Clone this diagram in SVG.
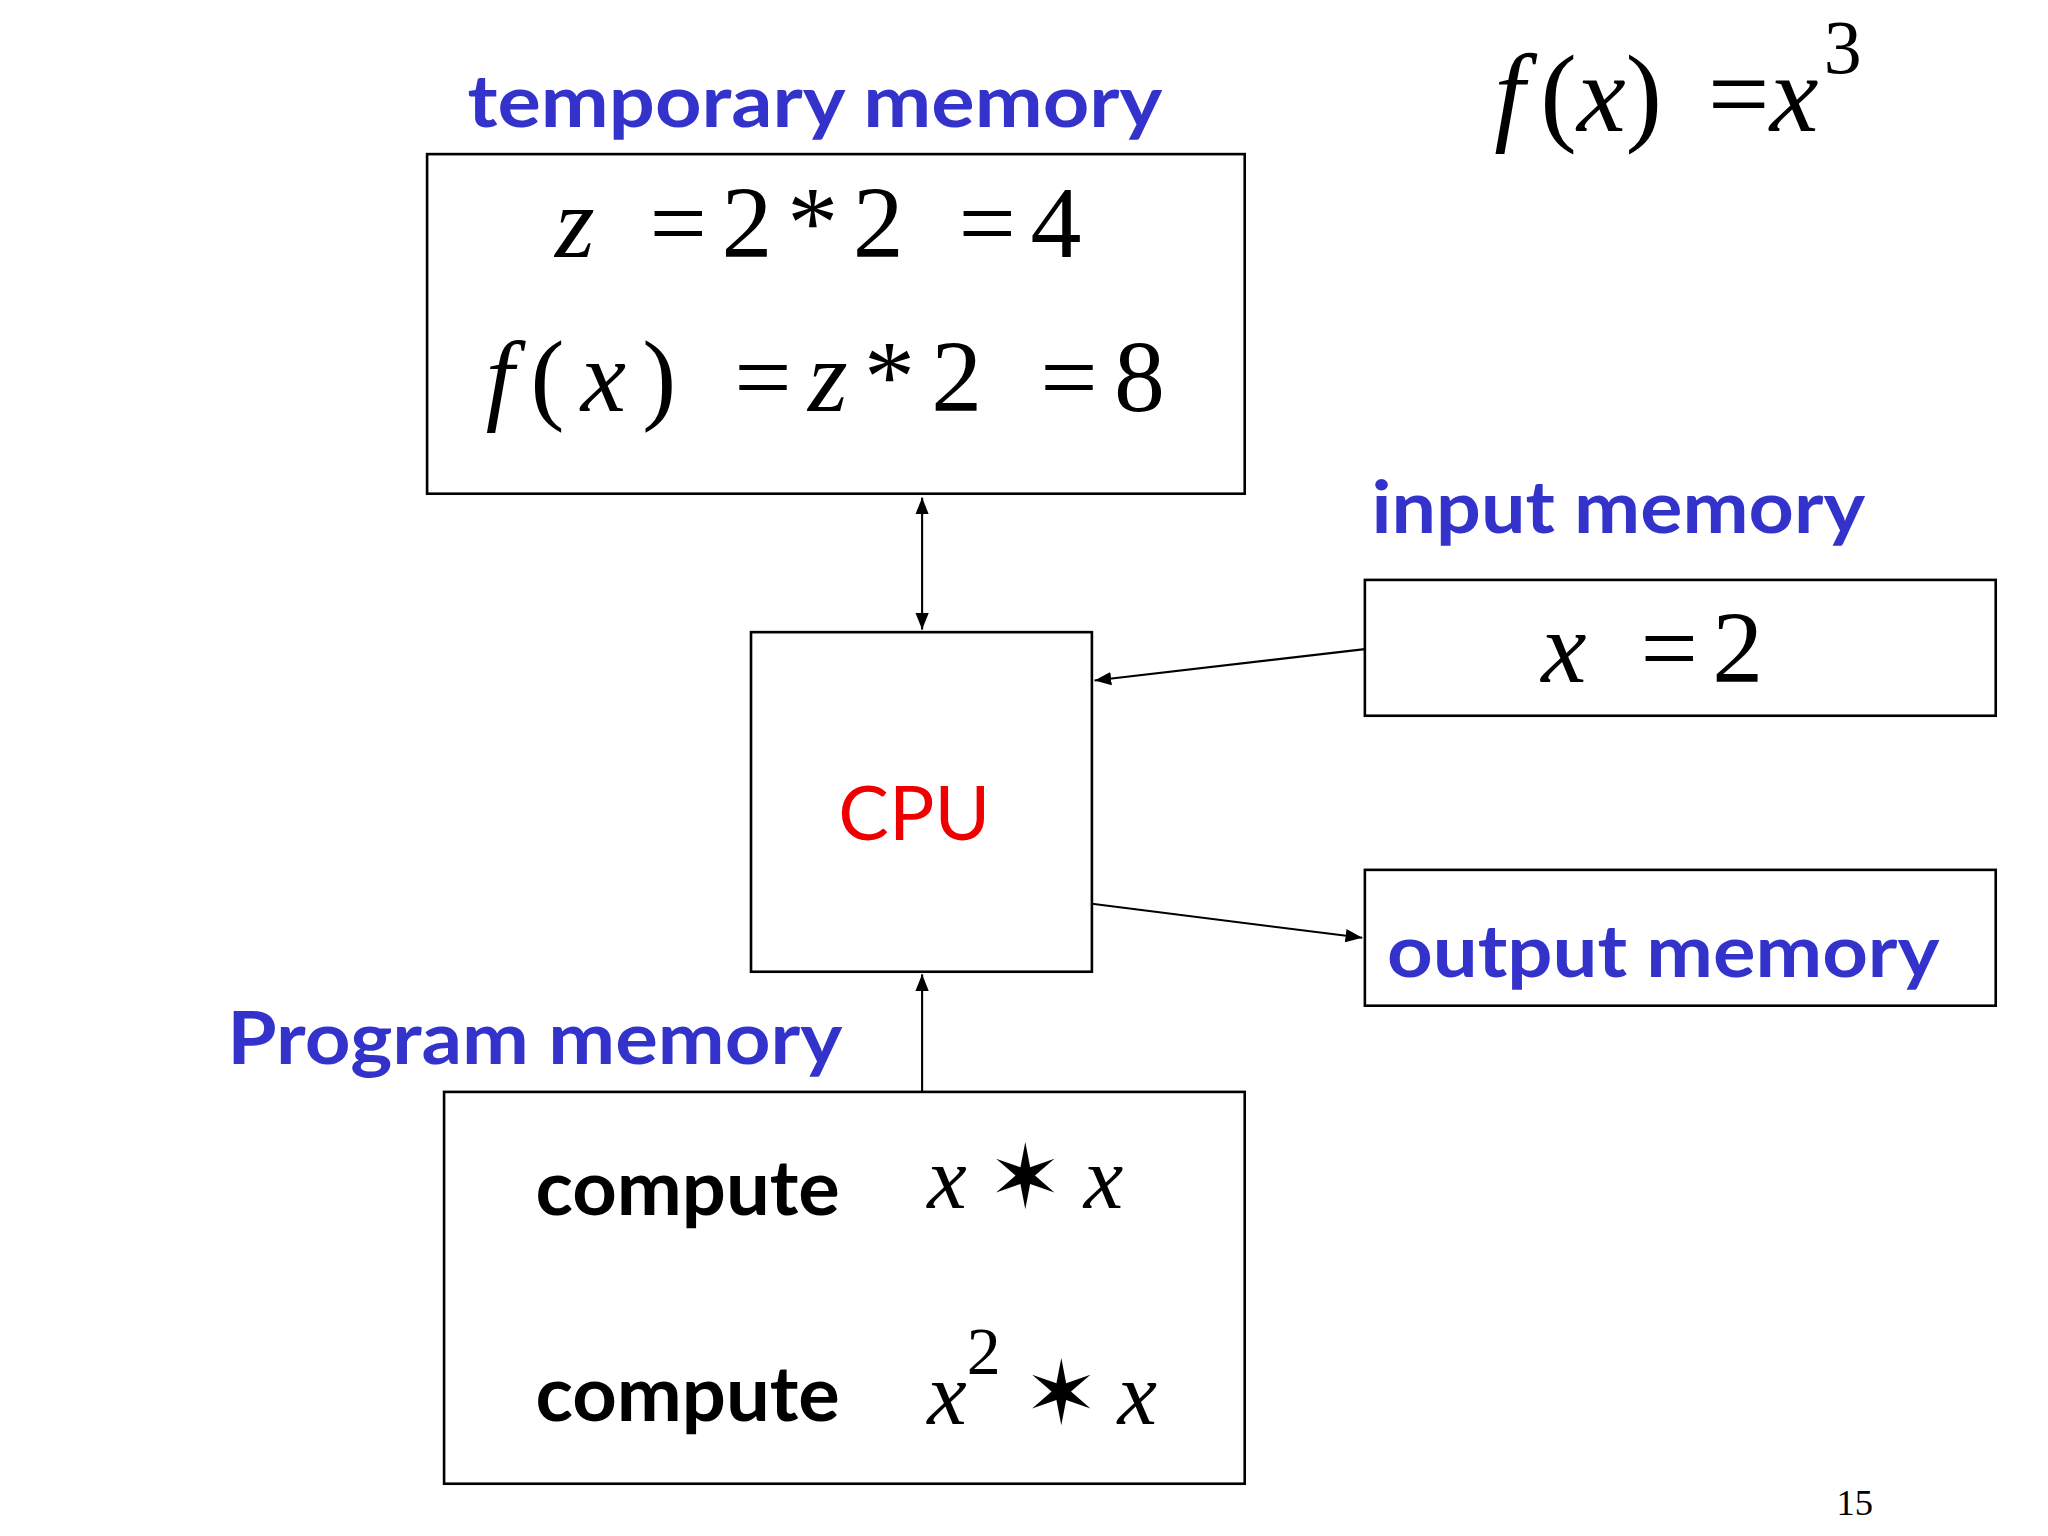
<svg xmlns="http://www.w3.org/2000/svg" width="2048" height="1536" viewBox="0 0 2048 1536">
<style>
.box{fill:none;stroke:#000;stroke-width:2}
.lbl{font-family:"Lato","DejaVu Sans",sans-serif;fill:#3333cc;font-size:56px;font-weight:bold}
.m{font-family:"Liberation Serif",serif;fill:#000}
.i{font-style:italic}
.c{font-family:"Lato","DejaVu Sans",sans-serif;font-size:58px;fill:#000;font-weight:bold}
.ln{stroke:#000;stroke-width:1.6;fill:none}
</style>
<defs><marker id="a" viewBox="0 0 10 10" refX="10" refY="5" markerWidth="8" markerHeight="8" orient="auto-start-reverse"><path d="M0,1L10,5L0,9z" fill="#000"/></marker></defs>
<rect width="2048" height="1536" fill="#fff"/>
<g transform="scale(1.3061)">
<g id="temp"><text class="lbl" x="358" y="97" textLength="532" lengthAdjust="spacingAndGlyphs">temporary memory</text><rect class="box" x="327" y="118" width="626" height="260"/>
<text class="m" x="425" y="197" font-size="78" textLength="403"><tspan class="i">z</tspan> =2*2 =4</text>
<text class="m" x="372" y="315" font-size="78" textLength="520"><tspan class="i">f</tspan>(<tspan class="i">x</tspan>) =<tspan class="i">z</tspan>*2 =8</text></g>
<g id="formula"><text class="m" x="1140" y="100" font-size="84"><tspan class="i" dx="4">f</tspan><tspan dx="12">(</tspan><tspan class="i">x</tspan>) <tspan dx="14">=</tspan><tspan class="i">x</tspan><tspan dy="-44" font-size="58" dx="4">3</tspan></text></g>
<g id="input"><text class="lbl" x="1050" y="408" textLength="378" lengthAdjust="spacingAndGlyphs">input memory</text><rect class="box" x="1045" y="444" width="483" height="104"/>
<text class="m" x="1180" y="522" font-size="78" textLength="170"><tspan class="i">x</tspan> =2</text></g>
<g id="cpu"><rect class="box" x="575" y="484" width="261" height="260"/><text x="700" y="643" font-family="Lato,DejaVu Sans,sans-serif" font-size="58" fill="#ee0000" text-anchor="middle">CPU</text></g>
<g id="output"><rect class="box" x="1045" y="666" width="483" height="104"/><text class="lbl" x="1062" y="748" textLength="423" lengthAdjust="spacingAndGlyphs">output memory</text></g>
<g id="program"><text class="lbl" x="174" y="815" textLength="471" lengthAdjust="spacingAndGlyphs">Program memory</text><rect class="box" x="340" y="836" width="613" height="300"/>
<text class="c" x="410" y="930" textLength="233" lengthAdjust="spacingAndGlyphs">compute</text><text class="m" x="710" y="925" font-size="68" textLength="150"><tspan class="i">x</tspan>✶<tspan class="i">x</tspan></text>
<text class="c" x="410" y="1088" textLength="233" lengthAdjust="spacingAndGlyphs">compute</text><text class="m" x="710" y="1090" font-size="68"><tspan class="i">x</tspan><tspan dy="-38" font-size="52">2</tspan><tspan dy="38" dx="18">✶</tspan><tspan class="i" dx="14">x</tspan></text></g>
<text class="m" x="1420" y="1160" font-size="28" text-anchor="middle">15</text>
<g id="connectors">
<line class="ln" x1="706" y1="381" x2="706" y2="482" marker-start="url(#a)" marker-end="url(#a)"/>
<line class="ln" x1="1045" y1="497" x2="838" y2="521" marker-end="url(#a)"/>
<line class="ln" x1="836" y1="692" x2="1043" y2="718" marker-end="url(#a)"/>
<line class="ln" x1="706" y1="836" x2="706" y2="746" marker-end="url(#a)"/>
</g>
</g>
</svg>
